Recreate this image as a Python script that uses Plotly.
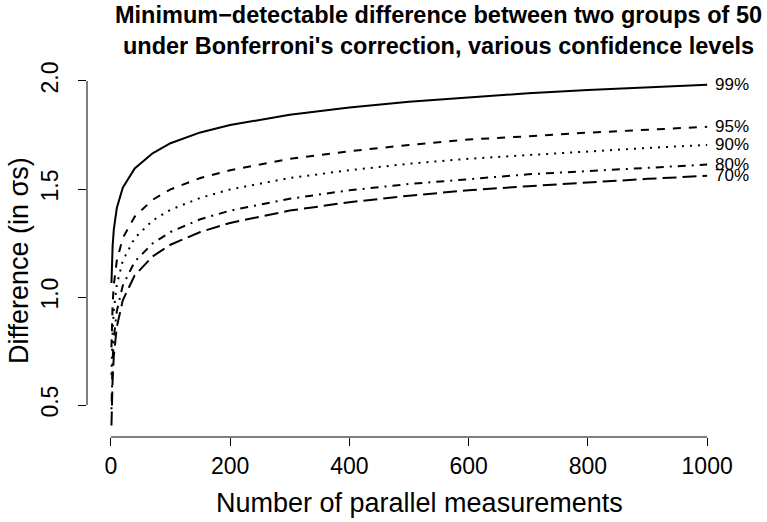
import plotly.graph_objects as go

# Number of parallel measurements (x)
n_tests = [1, 2, 3, 5, 10, 20, 40, 70, 100, 150, 200, 300, 400, 500, 600, 700, 800, 900, 1000]

# Minimum detectable difference (in sigmas)
diff_99 = [1.065, 1.176, 1.238, 1.313, 1.412, 1.506, 1.595, 1.665, 1.712, 1.762, 1.796, 1.844, 1.877, 1.904, 1.925, 1.943, 1.958, 1.971, 1.983]
diff_95 = [0.767, 0.899, 0.971, 1.057, 1.168, 1.273, 1.372, 1.450, 1.498, 1.551, 1.587, 1.640, 1.675, 1.704, 1.729, 1.744, 1.761, 1.774, 1.788]
diff_90 = [0.640, 0.772, 0.845, 0.939, 1.057, 1.168, 1.273, 1.354, 1.404, 1.459, 1.498, 1.551, 1.587, 1.617, 1.640, 1.657, 1.675, 1.690, 1.704]
diff_80 = [0.480, 0.630, 0.710, 0.810, 0.935, 1.053, 1.164, 1.248, 1.301, 1.360, 1.400, 1.455, 1.494, 1.523, 1.547, 1.568, 1.583, 1.598, 1.613]
diff_70 = [0.405, 0.535, 0.622, 0.728, 0.861, 0.985, 1.100, 1.188, 1.242, 1.301, 1.343, 1.400, 1.439, 1.469, 1.494, 1.513, 1.531, 1.547, 1.561]

levels = ["99%", "95%", "90%", "80%", "70%"]
series = [diff_99, diff_95, diff_90, diff_80, diff_70]
dashes = ["solid", "8px,8px", "2px,6px", "2px,6px,8px,6px", "14px,6px"]

x_ticks = [0, 200, 400, 600, 800, 1000]
y_ticks = [0.5, 1.0, 1.5, 2.0]

FONT = "Liberation Sans, Arial, Helvetica, sans-serif"

fig = go.Figure()
for lab, ys, d in zip(levels, series, dashes):
    fig.add_trace(go.Scatter(x=n_tests, y=ys, mode="lines", name=lab,
                             line=dict(color="black", width=2, dash=d),
                             showlegend=False, hoverinfo="skip"))
    fig.add_annotation(x=n_tests[-1], y=ys[-1], text=lab, xref="x", yref="y",
                       xanchor="left", yanchor="middle", showarrow=False, xshift=6,
                       font=dict(family=FONT, size=17, color="black"))

x_range = [-40, 1040]
y_range = [0.352, 2.037]

# axis lines spanning first to last tick (R style)
fig.add_shape(type="line", xref="x", yref="paper", x0=x_ticks[0], x1=x_ticks[-1], y0=0, y1=0,
              line=dict(color="black", width=1))
fig.add_shape(type="line", xref="paper", yref="y", x0=0, x1=0, y0=y_ticks[0], y1=y_ticks[-1],
              line=dict(color="black", width=1))

fig.update_layout(
    width=767, height=522,
    margin=dict(l=87, r=36, t=73, b=85),
    paper_bgcolor="white", plot_bgcolor="white",
    font=dict(family=FONT, size=23, color="black"),
    xaxis=dict(range=x_range, tickvals=x_ticks, ticktext=[str(v) for v in x_ticks],
               showgrid=False, zeroline=False, showline=False,
               ticks="outside", ticklen=8, tickcolor="black", tickwidth=1,
               tickfont=dict(size=23)),
    yaxis=dict(range=y_range, tickvals=y_ticks, ticktext=["0.5", "1.0", "1.5", "2.0"],
               showgrid=False, zeroline=False, showline=False,
               ticks="outside", ticklen=8, tickcolor="black", tickwidth=1,
               tickangle=-90, tickfont=dict(size=23), ticklabelstandoff=11),
)

fig.add_annotation(text="<b>Minimum\u2212detectable difference between two groups of 50<br>under Bonferroni's correction, various confidence levels</b>",
                   xref="paper", yref="paper", x=0.546, y=1, yshift=73, xanchor="center", yanchor="top",
                   showarrow=False, align="center",
                   font=dict(family=FONT, size=23.5, color="black"))
fig.add_annotation(text="Number of parallel measurements", xref="paper", yref="paper",
                   x=0.516, y=0, yshift=-66, xanchor="center", yanchor="middle", showarrow=False,
                   font=dict(family=FONT, size=27, color="black"))
fig.add_annotation(text="Difference (in \u03c3s)", xref="paper", yref="paper",
                   x=0, xshift=-68, y=0.4835, xanchor="center", yanchor="middle", textangle=-90,
                   showarrow=False, font=dict(family=FONT, size=27, color="black"))

fig.write_html("out.html")
